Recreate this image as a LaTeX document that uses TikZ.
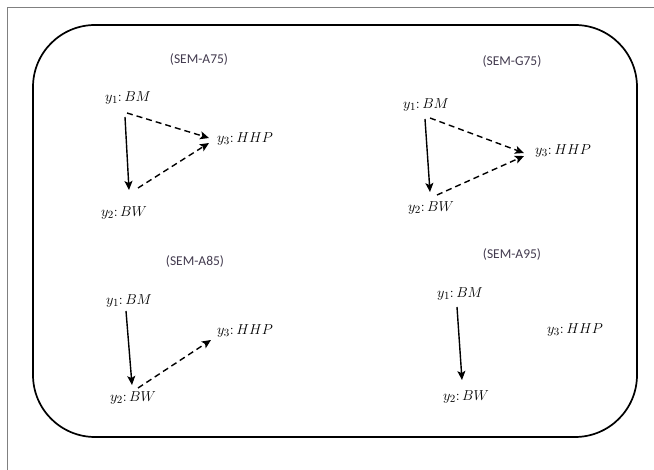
\documentclass[tikz,border=0pt]{standalone}
\usepackage{fontspec}
\newfontfamily\titlefont{Carlito}
\usetikzlibrary{arrows.meta,calc}
\definecolor{titlecol}{RGB}{66,58,78}
\begin{document}
\begin{tikzpicture}[x=1pt,y=-1pt,
  var/.style={inner sep=0pt, font=\fontsize{15}{17}\selectfont},
  paneltitle/.style={inner sep=0pt, font=\titlefont\fontsize{13.5}{15}\selectfont, text=titlecol},
  direct/.style={-{Stealth[length=9pt,width=8pt,inset=2pt]}, line width=1.4pt},
  indirect/.style={direct, dash pattern=on 6pt off 4pt}]
\useasboundingbox (0,0) rectangle (654,470);
% page frame
\draw[gray, line width=1pt] (7,470) -- (7,7.5) -- (654,7.5);
% rounded panel border
\draw[line width=1.7pt, rounded corners=62pt] (33,25) rectangle (637,437);

% model SEM-A75
\node[paneltitle] (t1) at (199,60) {(SEM-A75)};
\node[var] (a1) at (128,98) {$y_1{:}\,BM$};
\node[var] (a2) at (124,213) {$y_2{:}\,BW$};
\node[var] (a3) at (245,139) {$y_3{:}\,HHP$};
\draw[direct] ($(a1)+(-3,19)$) -- ($(a2)+(5,-23)$);
\draw[indirect] ($(a1)+(-1,15)$) -- ($(a3)+(-36,-1)$);
\draw[indirect] ($(a2)+(14,-25)$) -- ($(a3)+(-36,4)$);

% model SEM-G75
\node[paneltitle] (t2) at (512,62) {(SEM-G75)};
\node[var] (b1) at (426,105) {$y_1{:}\,BM$};
\node[var] (b2) at (431,208) {$y_2{:}\,BW$};
\node[var] (b3) at (563,151) {$y_3{:}\,HHP$};
\draw[direct] ($(b1)+(-1,14)$) -- ($(b2)+(-1,-16)$);
\draw[indirect] ($(b1)+(4,13)$) -- ($(b3)+(-39,2)$);
\draw[indirect] ($(b2)+(6,-13)$) -- ($(b3)+(-39,5)$);

% model SEM-A85
\node[paneltitle] (t3) at (195,262) {(SEM-A85)};
\node[var] (c1) at (129,301) {$y_1{:}\,BM$};
\node[var] (c2) at (133,398) {$y_2{:}\,BW$};
\node[var] (c3) at (245,331) {$y_3{:}\,HHP$};
\draw[direct] ($(c1)+(-3,10)$) -- ($(c2)+(-1,-13)$);
\draw[indirect] ($(c2)+(5,-10)$) -- ($(c3)+(-34,9)$);

% model SEM-A95
\node[paneltitle] (t4) at (512,255) {(SEM-A95)};
\node[var] (d1) at (460,294) {$y_1{:}\,BM$};
\node[var] (d2) at (466,397) {$y_2{:}\,BW$};
\node[var] (d3) at (575,330) {$y_3{:}\,HHP$};
\draw[direct] ($(d1)+(-3,13)$) -- ($(d2)+(-4,-17)$);
\end{tikzpicture}
\end{document}
